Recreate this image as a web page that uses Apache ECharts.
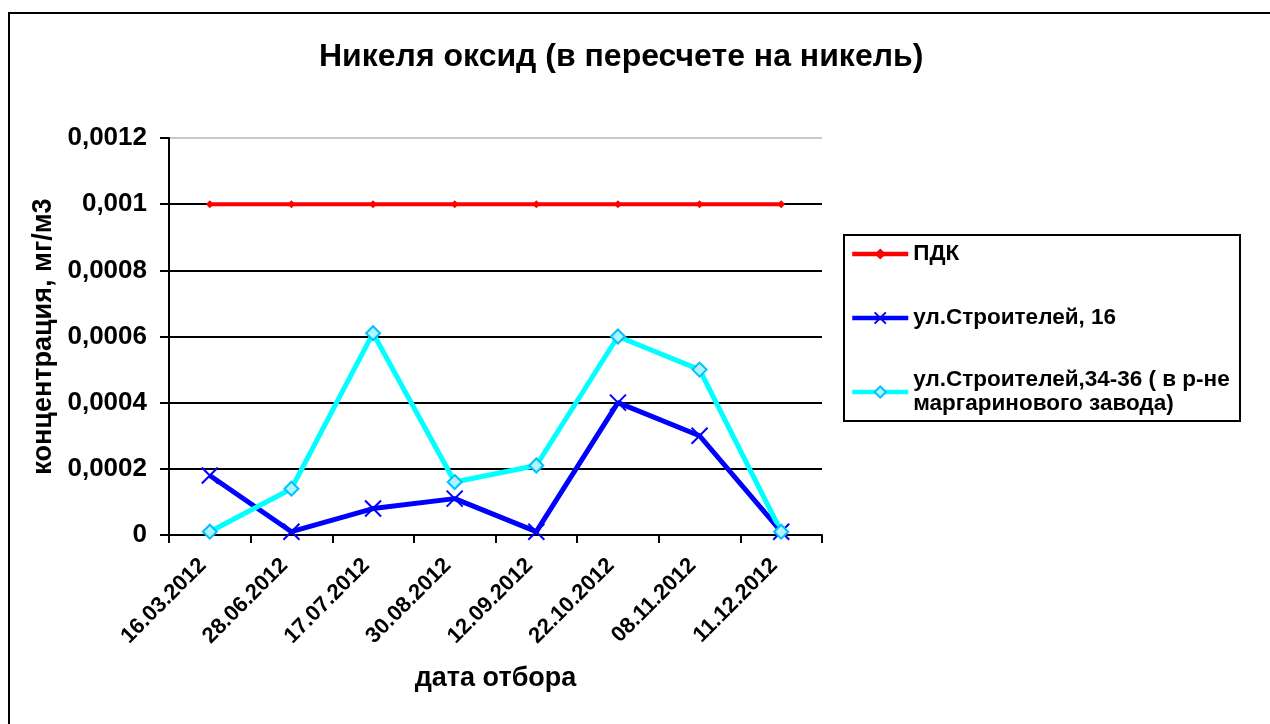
<!DOCTYPE html>
<html>
<head>
<meta charset="utf-8">
<script src="https://cdn.jsdelivr.net/npm/echarts@6/dist/echarts.min.js"></script>
<style>
  html, body { margin: 0; padding: 0; background: #fff; }
  #chart { width: 1270px; height: 724px; }
</style>
</head>
<body>
<div id="chart"></div>
<script>
// даты отбора
var dates = ['16.03.2012', '28.06.2012', '17.07.2012', '30.08.2012', '12.09.2012', '22.10.2012', '08.11.2012', '11.12.2012'];
// ПДК
var pdk = [0.001, 0.001, 0.001, 0.001, 0.001, 0.001, 0.001, 0.001];
// ул.Строителей, 16
var str16 = [0.00018, 0.00001, 0.00008, 0.00011, 0.00001, 0.0004, 0.0003, 0.00001];
// ул.Строителей,34-36
var str34 = [0.00001, 0.00014, 0.00061, 0.00016, 0.00021, 0.0006, 0.0005, 0.00001];

var names = ['ПДК', 'ул.Строителей, 16', 'ул.Строителей,34-36 ( в р-не\nмаргаринового завода)'];

var font = 'Arial, "Liberation Sans", sans-serif';
var legendText = { fontFamily: font, fontSize: 22.5, fontWeight: 'bold', color: '#000', lineHeight: 24 };

var dom = document.getElementById('chart');
var myChart = echarts.init(dom);

var option = {
    backgroundColor: '#fff',
    animation: false,
    title: {
        text: 'Никеля оксид (в пересчете на никель)',
        left: 314,
        top: 36,
        textStyle: { fontFamily: font, fontSize: 32, fontWeight: 'bold', color: '#000' }
    },
    // рамки: общая и легенды
    graphic: [
        { type: 'rect', shape: { x: 9, y: 13, width: 1300, height: 760 }, style: { fill: 'none', stroke: '#000', lineWidth: 2 }, z: -1 },
        { type: 'rect', shape: { x: 844, y: 235, width: 396, height: 186 }, style: { fill: '#fff', stroke: '#000', lineWidth: 2 }, z: -1 }
    ],
    // две легенды, чтобы значок третьей стоял у первой строки
    legend: [{
        orient: 'vertical',
        left: 850,
        top: 242,
        padding: 0,
        itemGap: 40,
        itemWidth: 56,
        itemHeight: 14,
        align: 'left',
        lineStyle: { width: 4.5 },
        textStyle: legendText,
        data: [names[0], names[1]]
    }, {
        orient: 'vertical',
        left: 850,
        top: 356,
        padding: 0,
        itemWidth: 56,
        itemHeight: 14,
        align: 'left',
        lineStyle: { width: 4.5 },
        textStyle: Object.assign({}, legendText, { padding: [24, 0, 0, 0] }),
        data: [names[2]]
    }],
    grid: {
        left: 169,
        top: 138,
        width: 653,
        height: 397
    },
    xAxis: {
        type: 'category',
        data: dates,
        boundaryGap: true,
        name: 'дата отбора',
        nameLocation: 'middle',
        nameGap: 130,
        nameTextStyle: { fontFamily: font, fontSize: 27, fontWeight: 'bold', color: '#000' },
        axisLine: { lineStyle: { color: '#000', width: 2 } },
        axisTick: { show: true, length: 8, lineStyle: { color: '#000', width: 2 } },
        axisLabel: {
            rotate: 45, margin: 20, interval: 0, padding: [0, 10, 0, 0],
            fontFamily: font, fontSize: 22, fontWeight: 'bold', color: '#000'
        },
        splitLine: { show: false }
    },
    yAxis: {
        type: 'value',
        min: 0,
        max: 0.0012,
        interval: 0.0002,
        name: 'концентрация, мг/м3',
        nameLocation: 'middle',
        nameGap: 112,
        nameTextStyle: { fontFamily: font, fontSize: 27, fontWeight: 'bold', color: '#000' },
        axisLine: { show: true, lineStyle: { color: '#000', width: 2 } },
        axisTick: { show: true, length: 9, lineStyle: { color: '#000', width: 2 } },
        axisLabel: {
            margin: 22,
            fontFamily: font, fontSize: 26, fontWeight: 'bold', color: '#000',
            formatter: function (v) {
                return String(+v.toFixed(4)).replace('.', ',');
            }
        },
        splitLine: {
            show: true,
            lineStyle: { color: ['#000', '#000', '#000', '#000', '#000', '#000', '#c8c8c8'], width: 2 }
        }
    },
    series: [{
        name: names[0],
        type: 'line',
        data: pdk,
        symbol: 'diamond',
        symbolSize: 8,
        lineStyle: { color: '#ff0000', width: 4 },
        itemStyle: { color: '#ff0000' }
    }, {
        name: names[1],
        type: 'line',
        data: str16,
        symbol: 'path://M0,0L10,10M10,0L0,10',
        symbolSize: 16,
        lineStyle: { color: '#0000ff', width: 5 },
        itemStyle: { color: '#0000ff', borderColor: '#0000ff', borderWidth: 2 }
    }, {
        name: names[2],
        type: 'line',
        data: str34,
        symbol: 'diamond',
        symbolSize: 14,
        lineStyle: { color: '#00ffff', width: 5 },
        itemStyle: { color: '#aef6ff', borderColor: '#00bfff', borderWidth: 2 }
    }]
};
myChart.setOption(option);
window.onresize = myChart.resize;
</script>
</body>
</html>
